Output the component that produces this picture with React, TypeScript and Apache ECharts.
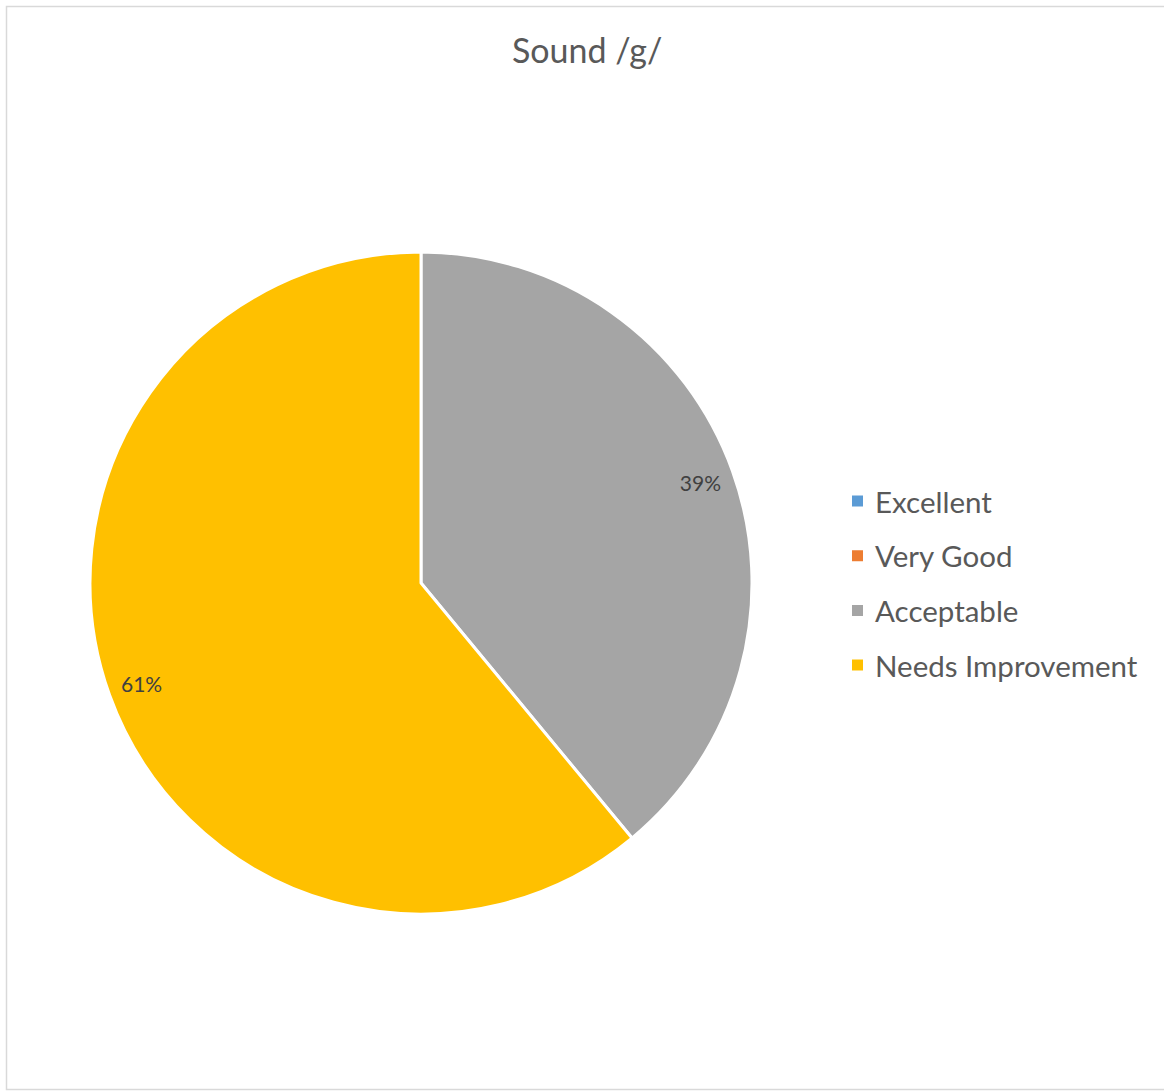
import React, { useEffect, useRef } from "react";
import * as echarts from "echarts";

const titleText = "Sound /g/";
const categories = ["Excellent", "Very Good", "Acceptable", "Needs Improvement"];
const values = [0, 0, 39, 61];
const colors = ["#5B9BD5", "#ED7D31", "#A5A5A5", "#FFC000"];

const FONT = "Lato, 'Noto Sans', sans-serif";

export default function App() {
  const ref = useRef<HTMLDivElement>(null);
  useEffect(() => {
    if (!ref.current) return;
    const chart = echarts.init(ref.current, null, { renderer: "svg" });
    const data = categories.map((name, i) => ({
      name,
      value: values[i],
      itemStyle: { color: colors[i] },
    }));
    const total = values.reduce((a, b) => a + b, 0);
    chart.setOption({
      animation: false,
      backgroundColor: "#FFFFFF",
      title: {
        text: titleText,
        left: 512,
        top: 31,
        padding: 0,
        textStyle: {
          fontFamily: FONT,
          fontSize: 34,
          fontWeight: "normal",
          color: "#595959",
          lineHeight: 36,
        },
      },
      legend: {
        orient: "vertical",
        left: 850,
        top: 486,
        padding: 0,
        itemWidth: 13,
        itemHeight: 13,
        itemGap: 24.7,
        icon: "rect",
        data: categories,
        selectedMode: false,
        textStyle: {
          fontFamily: FONT,
          fontSize: 29.5,
          color: "#595959",
          lineHeight: 30,
          padding: [0, 0, 0, 6],
        },
      },
      graphic: [
        {
          type: "rect",
          shape: { x: 6.5, y: 6.5, width: 1170, height: 1083 },
          style: { fill: "none", stroke: "#D9D9D9", lineWidth: 1.5 },
          silent: true,
        },
      ],
      series: [
        {
          type: "pie",
          center: [421, 583],
          radius: [0, 331],
          startAngle: 90,
          clockwise: true,
          data,
          label: { show: false },
          labelLine: { show: false },
          itemStyle: { borderColor: "#FFFFFF", borderWidth: 3 },
          emphasis: { disabled: true },
          silent: true,
        },
        {
          type: "pie",
          center: [421, 583],
          radius: [257, 331],
          startAngle: 90,
          clockwise: true,
          data: data.map((d) => ({
            ...d,
            itemStyle: { color: "rgba(0,0,0,0)" },
            label: { show: d.value > 0 },
          })),
          legendHoverLink: false,
          label: {
            show: true,
            position: "inside",
            fontFamily: FONT,
            fontSize: 21,
            color: "#404040",
            formatter: (p: any) => Math.round((p.value / total) * 100) + "%",
          },
          labelLine: { show: false },
          emphasis: { disabled: true },
          silent: true,
          z: 3,
        },
      ],
    });
    return () => chart.dispose();
  }, []);
  return (
    <div
      ref={ref}
      style={{ position: "absolute", left: 0, top: 0, width: 1164, height: 1091 }}
    />
  );
}
